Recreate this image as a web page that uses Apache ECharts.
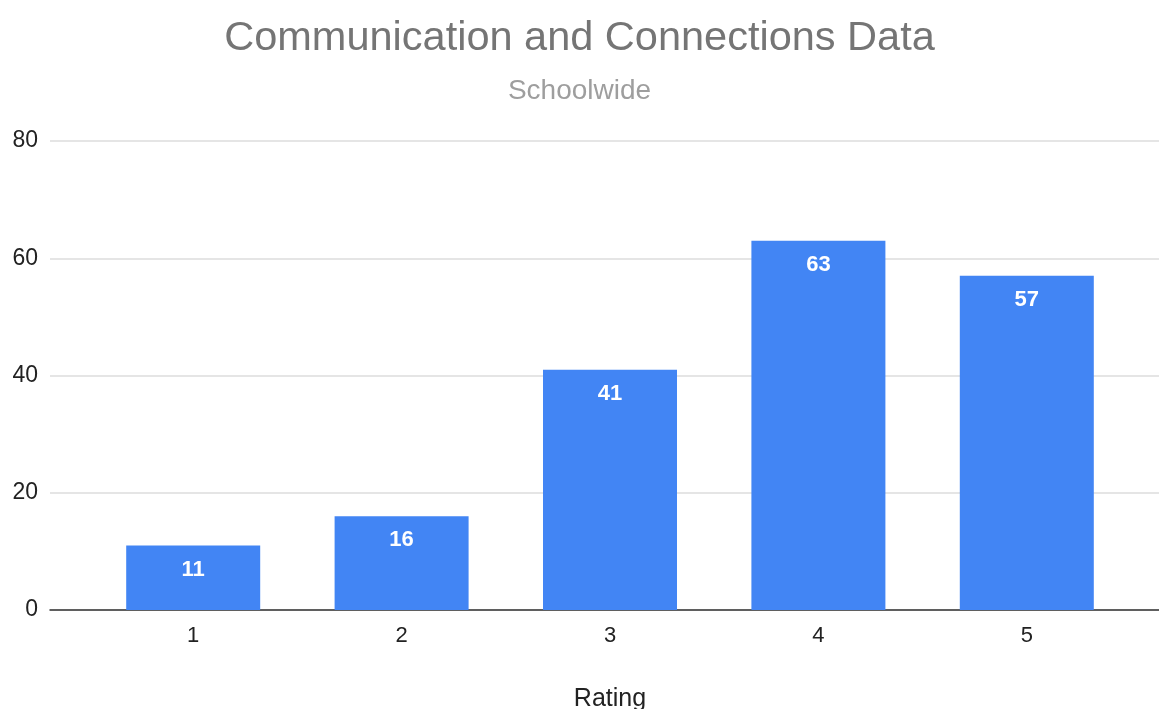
<!DOCTYPE html>
<html><head><meta charset="utf-8">
<script src="https://cdn.jsdelivr.net/npm/echarts@6/dist/echarts.min.js"></script>
<style>html,body{margin:0;padding:0;background:#fff}#c{width:1159px;height:709px}</style>
</head><body><div id="c"></div>
<script>
const categories = ['1','2','3','4','5'];
const values = [11, 16, 41, 63, 57];
const yTicks = [0, 20, 40, 60, 80];

const font = '"Liberation Sans", Arial, sans-serif';
const chart = echarts.init(document.getElementById('c'));
chart.setOption({
  backgroundColor: '#fff',
  animation: false,
  title: {
    text: 'Communication and Connections Data',
    subtext: 'Schoolwide',
    left: 'center',
    top: 13,
    itemGap: 17,
    textStyle: { fontFamily: font, fontSize: 41.5, fontWeight: 'normal', color: '#757575' },
    subtextStyle: { fontFamily: font, fontSize: 28, color: '#9e9e9e' }
  },
  grid: [
    { left: 89, right: 28, top: 141, bottom: 99, containLabel: false, outerBoundsMode: 'none' },
    { left: 50, right: 0, top: 141, bottom: 99, containLabel: false, outerBoundsMode: 'none' }
  ],
  xAxis: [
    {
      gridIndex: 0, type: 'category', data: categories,
      axisLine: { show: false }, axisTick: { show: false },
      axisLabel: { fontFamily: font, fontSize: 22, color: '#222', margin: 15 },
      name: 'Rating', nameLocation: 'middle', nameGap: 77,
      nameTextStyle: { fontFamily: font, fontSize: 25, color: '#222' }
    },
    {
      gridIndex: 1, type: 'value', min: 0, max: 1, show: true,
      axisLine: { show: true, lineStyle: { color: '#333', width: 1.5 } },
      axisTick: { show: false }, axisLabel: { show: false }, splitLine: { show: false }
    }
  ],
  yAxis: [
    {
      gridIndex: 0, type: 'value', min: yTicks[0], max: yTicks[yTicks.length - 1], interval: 20,
      axisLabel: { show: false }, splitLine: { show: false }, axisLine: { show: false }, axisTick: { show: false }
    },
    {
      gridIndex: 1, type: 'value', min: yTicks[0], max: yTicks[yTicks.length - 1], interval: 20,
      axisLine: { show: false }, axisTick: { show: false },
      axisLabel: { fontFamily: font, fontSize: 23, color: '#222', margin: 12 },
      splitLine: { lineStyle: { color: '#dcdcdc', width: 1.5 } }
    }
  ],
  series: [{
    type: 'bar', xAxisIndex: 0, yAxisIndex: 0,
    data: values, barWidth: 134, z: 5,
    itemStyle: { color: '#4285F4' },
    label: {
      show: true, position: 'insideTop', distance: 13,
      fontFamily: font, fontSize: 22, fontWeight: 'bold', color: '#fff'
    }
  }]
});
</script></body></html>
